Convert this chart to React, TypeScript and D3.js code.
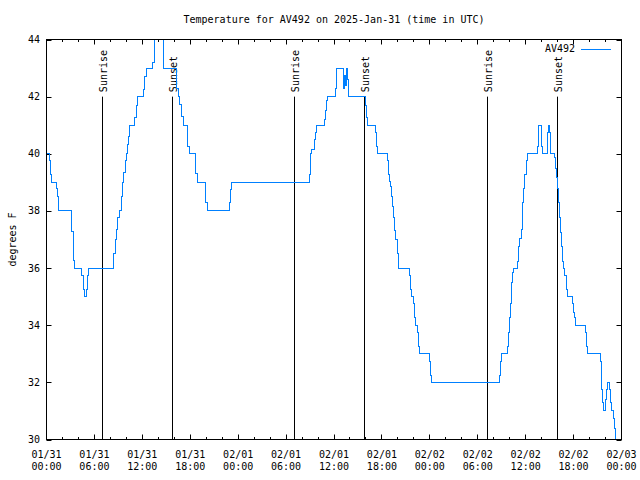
import React from "react";
import * as d3 from "d3";

const BASE = Date.UTC(2025, 0, 31, 0, 0);
const SPAN_HOURS = 72;

// hours after 2025-01-31 00:00 UTC
const hours = [
  0, 0.38, 0.46, 0.59, 1.29, 1.42, 1.54, 3.1, 3.17, 3.35, 3.42, 3.55, 4.43, 4.6, 4.73, 5.06, 5.18, 5.31,
  8.44, 8.62, 8.82, 8.94, 9.16, 9.37, 9.5, 9.7, 9.91, 10.07, 10.2, 10.32, 10.45, 11.08, 11.25, 11.38,
  12.17, 12.33, 12.46, 13.33, 13.55, 13.74, 14.71, 16.34, 16.56, 16.68, 16.9, 17.1, 17.6, 17.85, 18.65,
  18.85, 19.95, 20.11, 22.87, 23.04, 23.17, 32.9, 33.08, 33.24, 33.62, 33.71, 33.83, 34.78, 34.96, 35.09,
  35.21, 36.16, 36.34, 37.17, 37.29, 37.42, 37.59, 37.72, 37.85, 39.93, 40.05, 40.18, 41.23, 41.36, 41.43,
  42.69, 42.86, 42.99, 43.11, 43.24, 43.31, 43.44, 43.57, 43.69, 43.94, 44.07, 45.45, 45.57, 45.7, 45.95,
  46.07, 46.2, 46.45, 46.58, 46.7, 47.96, 48.08, 48.21, 56.74, 56.86, 56.99, 57.74, 57.87, 57.95, 58.04,
  58.17, 58.24, 58.37, 58.49, 59.0, 59.12, 59.25, 59.42, 59.55, 59.62, 59.75, 59.87, 60.05, 60.17, 61.5,
  61.63, 61.97, 62.13, 62.76, 62.88, 63.01, 63.13, 63.6, 63.76, 63.89, 64.01, 64.1, 64.23, 64.35, 64.48,
  64.6, 64.73, 64.85, 65.1, 65.27, 65.82, 65.98, 66.11, 66.23, 67.45, 67.61, 67.78, 69.33, 69.46, 69.53,
  69.66, 69.78, 70.0, 70.12, 70.28, 70.54, 70.62, 70.79, 70.96, 71.13, 71.29, 71.38,
];

// degrees F
const temps = [
  40, 39.77, 39.27, 39.0, 38.8, 38.5, 38.0, 37.76, 37.29, 36.77, 36.27, 36.0, 35.74, 35.25, 35.0, 35.25, 35.74, 36.0,
  36.5, 37.0, 37.35, 37.76, 38.0, 38.5, 39.0, 39.33, 39.77, 40.0, 40.33, 40.6, 41.0, 41.26, 41.69, 42.0,
  42.25, 42.72, 43.0, 43.2, 44.3, 45.0, 43.0, 42.3, 42.0, 41.72, 41.3, 41.0, 40.27, 40.0, 39.3,
  39.0, 38.28, 38.0, 38.28, 38.75, 39.0, 39.27, 40.0, 40.15, 40.5, 40.73, 41.0, 41.2, 41.52, 41.87,
  42.0, 42.27, 43.0, 42.3, 42.75, 42.4, 43.0, 42.6, 42.0, 41.7, 41.26, 41.0, 40.73, 40.27, 40.0,
  39.77, 39.27, 39.04, 38.85, 38.52, 38.17, 37.76, 37.3, 37.0, 36.5, 36.0, 35.74, 35.25, 35.0, 34.76,
  34.26, 34.0, 33.73, 33.27, 33.0, 32.74, 32.24, 32.0, 32.24, 32.74, 33.0, 33.27, 33.73, 34.26, 34.76,
  35.16, 35.5, 35.83, 36.0, 36.24, 36.77, 37.02, 37.35, 37.76, 38.28, 38.77, 39.27, 39.77, 40.0, 40.27,
  41.0, 40.27, 40.0, 40.73, 41.0, 40.73, 40.0, 39.86, 39.5, 39.16, 38.77, 38.28, 37.76, 37.26, 36.77,
  36.24, 36.0, 35.74, 35.25, 35.0, 34.76, 34.43, 34.26, 34.0, 33.73, 33.27, 33.0, 32.72, 32.22, 31.75,
  31.28, 31.0, 31.4, 31.75, 32.0, 31.75, 31.28, 31.0, 30.72, 30.4, 29.8, 29.8,
];

const sunriseHours = [7.06, 31.02, 55.16];
const sunsetHours = [15.72, 39.8, 63.94];
const yTicks = [30, 32, 34, 36, 38, 40, 42, 44];
const seriesName = "AV492";
const titleText = "Temperature for AV492 on 2025-Jan-31 (time in UTC)";
const yLabel = "degrees F";

const H = 3600 * 1000;
const FONT = "'DejaVu Sans Mono', 'Liberation Mono', monospace";
const BLUE = "#0080ff";

export default function App() {
  const left = 46.5, right = 621.5, top = 39.5, bottom = 439.5;
  const x = d3.scaleUtc().domain([new Date(BASE), new Date(BASE + SPAN_HOURS * H)]).range([left, right]);
  const y = d3.scaleLinear().domain([30, 44]).range([bottom, top]);

  const data = hours.map((h, i) => ({ t: new Date(BASE + h * H), v: temps[i] }));
  const line = d3
    .line<{ t: Date; v: number }>()
    .x((d) => x(d.t))
    .y((d) => y(d.v))
    .curve(d3.curveStepAfter);

  const majorTicks = d3.range(0, SPAN_HOURS + 1, 6).map((h) => new Date(BASE + h * H));
  const minorTicks = d3
    .range(0, SPAN_HOURS + 1, 2)
    .filter((h) => h % 6 !== 0)
    .map((h) => new Date(BASE + h * H));
  const fmtDate = d3.utcFormat("%m/%d");
  const fmtTime = d3.utcFormat("%H:%M");

  const majorLen = 5;
  const minorLen = 2.5;

  const sunLines = [
    ...sunriseHours.map((h) => ({ h, label: "Sunrise" })),
    ...sunsetHours.map((h) => ({ h, label: "Sunset" })),
  ];

  return (
    <svg
      width={640}
      height={480}
      style={{ position: "absolute", left: 0, top: 0, background: "#fff", display: "block" }}
      fontFamily={FONT}
      fontSize={10}
    >
      <defs>
        <clipPath id="plotclip">
          <rect x={left} y={top} width={right - left} height={bottom - top} />
        </clipPath>
      </defs>
      <rect x={0} y={0} width={640} height={480} fill="#fff" />

      {/* title */}
      <text x={(left + right) / 2} y={23} textAnchor="middle" fill="#000">
        {titleText}
      </text>
      {/* y label */}
      <text transform={`translate(15.5, ${(top + bottom) / 2}) rotate(-90)`} textAnchor="middle" fill="#000">
        {yLabel}
      </text>

      {/* y ticks */}
      {yTicks.map((v) => (
        <g key={"y" + v}>
          <line x1={left} x2={left + majorLen} y1={Math.round(y(v)) + 0.5} y2={Math.round(y(v)) + 0.5} stroke="#000" />
          <line x1={right} x2={right - majorLen} y1={Math.round(y(v)) + 0.5} y2={Math.round(y(v)) + 0.5} stroke="#000" />
          <text x={40} y={y(v) + 3.5} textAnchor="end" fill="#000">
            {v}
          </text>
        </g>
      ))}

      {/* x ticks */}
      {majorTicks.map((t, i) => {
        const px = Math.round(x(t) - 0.5) + 0.5;
        return (
          <g key={"xm" + i}>
            <line x1={px} x2={px} y1={bottom} y2={bottom - majorLen} stroke="#000" />
            <line x1={px} x2={px} y1={top} y2={top + majorLen} stroke="#000" />
            <text x={x(t)} y={457.5} textAnchor="middle" fill="#000">
              {fmtDate(t)}
            </text>
            <text x={x(t)} y={469.5} textAnchor="middle" fill="#000">
              {fmtTime(t)}
            </text>
          </g>
        );
      })}
      {minorTicks.map((t, i) => {
        const px = Math.round(x(t) - 0.5) + 0.5;
        return (
          <g key={"xn" + i}>
            <line x1={px} x2={px} y1={bottom} y2={bottom - minorLen} stroke="#000" />
            <line x1={px} x2={px} y1={top} y2={top + minorLen} stroke="#000" />
          </g>
        );
      })}

      {/* sunrise / sunset */}
      {sunLines.map((s, i) => {
        const t = new Date(BASE + s.h * H);
        const px = Math.round(x(t) - 0.5) + 0.5;
        return (
          <g key={"s" + i}>
            <line x1={px} x2={px} y1={y(42)} y2={y(30)} stroke="#000" />
            <text transform={`translate(${px + 4.5}, ${y(42) - 4.5}) rotate(-90)`} textAnchor="start" fill="#000">
              {s.label}
            </text>
          </g>
        );
      })}

      {/* data */}
      <path
        d={line(data) ?? ""}
        fill="none"
        stroke={BLUE}
        strokeWidth={1}
        shapeRendering="crispEdges"
        clipPath="url(#plotclip)"
      />

      {/* legend */}
      <text x={575} y={52} textAnchor="end" fill="#000">
        {seriesName}
      </text>
      <line x1={581} x2={611} y1={49.5} y2={49.5} stroke={BLUE} strokeWidth={1} />

      {/* border */}
      <rect x={left} y={top} width={right - left} height={bottom - top} fill="none" stroke="#000" />
    </svg>
  );
}
